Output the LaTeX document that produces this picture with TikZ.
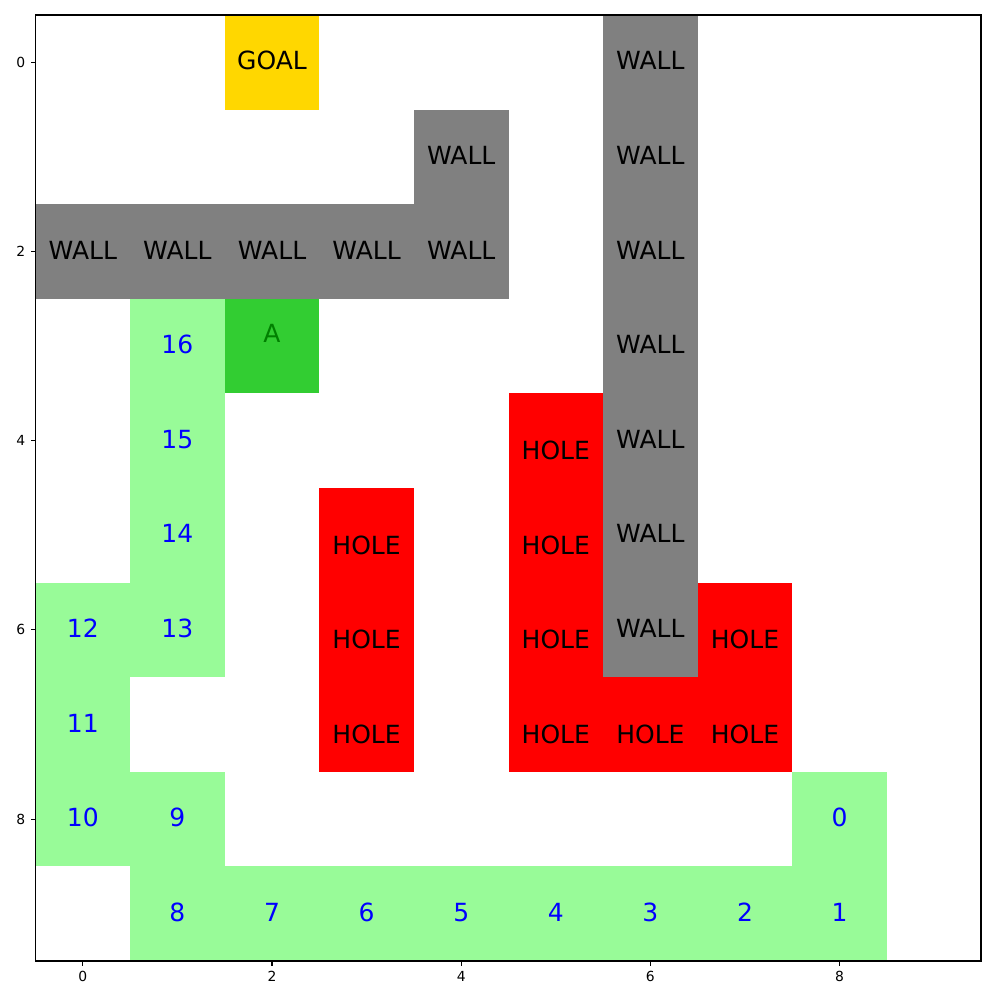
\documentclass[tikz,border=0pt]{standalone}
\usepackage{fontspec}
\setmainfont{DejaVu Sans}
\definecolor{cgold}{HTML}{FFD700}
\definecolor{cgray}{HTML}{808080}
\definecolor{cpale}{HTML}{98FB98}
\definecolor{clime}{HTML}{32CD32}
\definecolor{cred}{HTML}{FF0000}
\definecolor{cblue}{HTML}{0000FF}
\definecolor{cdgreen}{HTML}{008000}
\newcommand\cellfill[3]{\fill[#3] ({35.5+94.6*#1},{15+94.6*#2}) rectangle +(94.6,94.6);}
\tikzset{
  lbl/.style={inner sep=0pt, anchor=center, font=\fontsize{7.11}{8.5}\selectfont},
  ticklbl/.style={inner sep=0pt, font=\fontsize{3.95}{4.7}\selectfont},
  axline/.style={line width=0.316pt, black},
}
\begin{document}
\begin{tikzpicture}[x=0.01cm,y=-0.01cm]
\useasboundingbox (0,0) rectangle (1000,1000);
\fill[white] (0,0) rectangle (1000,1000);
% cells
\cellfill{2}{0}{cgold}
\foreach \c/\r in {6/0,6/1,6/2,6/3,6/4,6/5,6/6,4/1,0/2,1/2,2/2,3/2,4/2} {\cellfill{\c}{\r}{cgray}}
\cellfill{2}{3}{clime}
\foreach \c/\r in {1/3,1/4,1/5,0/6,1/6,0/7,0/8,1/8,8/8,1/9,2/9,3/9,4/9,5/9,6/9,7/9,8/9} {\cellfill{\c}{\r}{cpale}}
\foreach \c/\r in {5/4,3/5,5/5,3/6,5/6,7/6,3/7,5/7,6/7,7/7} {\cellfill{\c}{\r}{cred}}
% texts
\node[lbl] (goal) at ({35.5+94.6*2.5},{13.5+94.6*0.5}) {GOAL};
\foreach \c/\r in {6/0,6/1,6/2,6/3,6/4,6/5,6/6,4/1,0/2,1/2,2/2,3/2,4/2}
  {\node[lbl] (wall-\c-\r) at ({35.5+94.6*(\c+0.5)},{13.5+94.6*(\r+0.5)}) {WALL};}
\foreach \c/\r in {5/4,3/5,5/5,3/6,5/6,7/6,3/7,5/7,6/7,7/7}
  {\node[lbl] (hole-\c-\r) at ({35.5+94.6*(\c+0.5)},{13.5+94.6*(\r+0.62)}) {HOLE};}
\node[lbl, text=cdgreen] (agent) at ({35.5+94.6*2.5},{13.5+94.6*3.38}) {A};
\foreach \n/\c/\r in {0/8/8,1/8/9,2/7/9,3/6/9,4/5/9,5/4/9,6/3/9,7/2/9,8/1/9,9/1/8,10/0/8,11/0/7,12/0/6,13/1/6,14/1/5,15/1/4,16/1/3}
  {\node[lbl, text=cblue] (num-\n) at ({35.5+94.6*(\c+0.5)},{13.5+94.6*(\r+0.5)}) {\n};}
% axes frame
\draw[axline] (35.5,15) rectangle (981,961);
% ticks
\foreach \t in {0,2,4,6,8} {
  \draw[axline] ({35.5+94.6*(\t+0.5)},961) -- ++(0,4.86);
  \node[ticklbl, anchor=north] (xt-\t) at ({35.5+94.6*(\t+0.5)},970.7) {\t};
  \draw[axline] (35.5,{15+94.6*(\t+0.5)}) -- ++(-4.86,0);
  \node[ticklbl, anchor=east] (yt-\t) at (25.8,{15+94.6*(\t+0.5)}) {\t};
}
\end{tikzpicture}
\end{document}
